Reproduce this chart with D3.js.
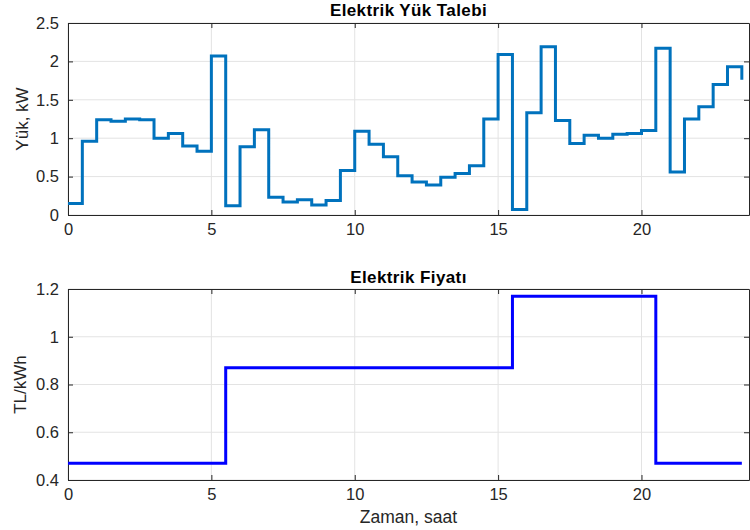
<!DOCTYPE html>
<html>
<head>
<meta charset="utf-8">
<script src="https://cdn.jsdelivr.net/npm/d3@7"></script>
<style>
body { margin: 0; background: #fff; }
text { font-family: "Liberation Sans", Arial, sans-serif; fill: #262626; }
</style>
</head>
<body>
<script>
// zaman (saat), yarım saatlik adımlar
var saat = d3.range(48).map(function(i) { return i * 0.5; });

// yük talebi, kW
var yuk = [0.15, 0.96, 1.24, 1.22, 1.25, 1.24, 1.00, 1.06, 0.90, 0.83,
           2.07, 0.12, 0.89, 1.11, 0.23, 0.17, 0.20, 0.13, 0.19, 0.58,
           1.09, 0.92, 0.76, 0.51, 0.43, 0.39, 0.49, 0.54, 0.64, 1.25,
           2.09, 0.07, 1.33, 2.19, 1.23, 0.93, 1.04, 1.00, 1.05, 1.06,
           1.10, 2.17, 0.56, 1.25, 1.41, 1.70, 1.93, 1.76];

// elektrik fiyatı, TL/kWh
var fiyat = [];
saat.forEach(function(t) {
    if (t < 5.5) fiyat.push(0.47);
    else if (t < 15.5) fiyat.push(0.87);
    else if (t < 20.5) fiyat.push(1.17);
    else fiyat.push(0.47);
});

var xTicks = [0, 5, 10, 15, 20];
var yukTicks = [0, 0.5, 1, 1.5, 2, 2.5];
var fiyatTicks = [0.4, 0.6, 0.8, 1, 1.2];

var svg = d3.select("body")
    .append("svg")
    .attr("width", 750)
    .attr("height", 530);

var left = 68, right = 749;

function cizPanel(opt) {
    var x = d3.scaleLinear().domain([0, 23.75]).range([left, right]);
    var y = d3.scaleLinear().domain(opt.yDomain).range([opt.bottom, opt.top]);
    var g = svg.append("g");

    // grid
    g.selectAll("line.gx").data(xTicks).enter().append("line")
        .attr("x1", x).attr("x2", x)
        .attr("y1", opt.top).attr("y2", opt.bottom)
        .attr("stroke", "#e3e3e3").attr("stroke-width", 1);
    g.selectAll("line.gy").data(opt.yTicks).enter().append("line")
        .attr("x1", left).attr("x2", right)
        .attr("y1", y).attr("y2", y)
        .attr("stroke", "#e3e3e3").attr("stroke-width", 1);

    // eksenler (kutu)
    var fmt = d3.format("~g");
    var xAx = d3.axisBottom(x).tickValues(xTicks).tickSizeInner(-5).tickSizeOuter(0).tickPadding(8).tickFormat(fmt);
    var yAx = d3.axisLeft(y).tickValues(opt.yTicks).tickSizeInner(-5).tickSizeOuter(0).tickPadding(9).tickFormat(fmt);
    var ga = g.append("g").attr("transform", "translate(0," + opt.bottom + ")").call(xAx);
    var gl = g.append("g").attr("transform", "translate(" + left + ",0)").call(yAx);
    var gt = g.append("g").attr("transform", "translate(0," + opt.top + ")")
        .call(d3.axisTop(x).tickValues(xTicks).tickSizeInner(-5).tickSizeOuter(0).tickFormat(""));
    var gr = g.append("g").attr("transform", "translate(" + right + ",0)")
        .call(d3.axisRight(y).tickValues(opt.yTicks).tickSizeInner(-5).tickSizeOuter(0).tickFormat(""));
    [ga, gl, gt, gr].forEach(function(a) {
        a.selectAll("path, line").attr("stroke", "#262626");
        a.selectAll("text").attr("font-size", 16.5).style("fill", "#262626")
            .attr("font-family", "Liberation Sans, Arial, sans-serif");
    });

    // basamak çizgisi
    var line = d3.line()
        .x(function(d, i) { return x(saat[i]); })
        .y(function(d) { return y(d); })
        .curve(d3.curveStepAfter);
    g.append("path")
        .datum(opt.data)
        .attr("d", line)
        .attr("fill", "none")
        .attr("stroke", opt.color)
        .attr("stroke-width", 3);

    // başlık
    g.append("text")
        .attr("x", (left + right) / 2).attr("y", opt.top - opt.titleGap)
        .attr("text-anchor", "middle")
        .attr("font-weight", "bold")
        .attr("font-size", 17)
        .attr("letter-spacing", 0.4)
        .style("fill", "#000")
        .text(opt.title);

    g.append("text")
        .attr("transform", "translate(" + opt.ylabX + "," + ((opt.top + opt.bottom) / 2) + ") rotate(-90)")
        .attr("text-anchor", "middle")
        .attr("font-size", 17)
        .text(opt.ylabel);
    return x;
}

cizPanel({ top: 23, bottom: 215, yDomain: [0, 2.5], yTicks: yukTicks, data: yuk,
    color: "#0072BD", title: "Elektrik Yük Talebi", ylabel: "Yük, kW", ylabX: 28, titleGap: 7 });

cizPanel({ top: 289, bottom: 480, yDomain: [0.4, 1.2], yTicks: fiyatTicks, data: fiyat,
    color: "#0000FF", title: "Elektrik Fiyatı", ylabel: "TL/kWh", ylabX: 26, titleGap: 6 });

svg.append("text")
    .attr("x", (left + right) / 2).attr("y", 523)
    .attr("text-anchor", "middle")
    .attr("font-size", 17.5)
    .text("Zaman, saat");
</script>
</body>
</html>
